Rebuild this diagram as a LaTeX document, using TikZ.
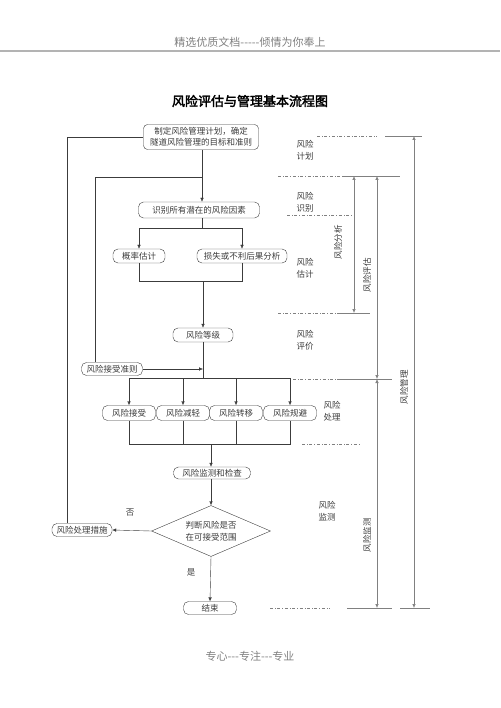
\documentclass[tikz,border=0pt]{standalone}
\usepackage{fontspec}
\usepackage{tikz}
\usepackage{xcolor}
\usetikzlibrary{positioning, arrows.meta, shapes.geometric}
\setmainfont[AutoFakeBold=2.5]{Noto Sans CJK SC}
\definecolor{rkgray}{RGB}{128, 128, 128}
\definecolor{rkline}{RGB}{60, 60, 60}
\tikzset{
    arr/.style={-{Latex[length=4pt, width=3.5pt]}},
    twoarr/.style={{Latex[length=4pt, width=3.5pt]}-{Latex[length=4pt, width=3.5pt]}},
    riskbox/.style={draw=rkline, thin, rounded corners=5pt, inner sep=1pt, minimum height=14pt, font=\fontsize{8.5}{11}\selectfont},
    riskdiamond/.style={draw=rkline, thin, diamond, aspect=2.33, inner sep=0pt, minimum width=119pt, minimum height=51pt, align=center, font=\fontsize{8.5}{12}\selectfont},
    sidelabel/.style={align=center, text=rkline, font=\fontsize{8.5}{12}\selectfont},
    sideturn/.style={sidelabel, rotate=90},
    sepline/.style={rkgray, thin, dash dot},
    scalebar/.style={rkgray, semithick},
    scaleline/.style={rkgray, semithick}
}

\begin{document}
\begin{tikzpicture}[x=1pt, y=-1pt, rkline, thin]
    \useasboundingbox (0,0) rectangle (500,708);

    % header and footer
    \node[text=rkgray, font=\fontsize{11}{13}\selectfont] (header) at (250,42) {精选优质文档-{}-{}-{}-{}-倾情为你奉上};
    \draw[rkgray!60, line width=1.6pt] (0,51) -- (500,51);
    \node[font=\fontsize{13}{15}\selectfont\bfseries, text=black] (title) at (250,101) {风险评估与管理基本流程图};
    \node[text=rkgray, font=\fontsize{11}{13}\selectfont] (footer) at (250,656) {专心-{}-{}-专注-{}-{}-专业};

    % flow nodes
    \node[riskbox, minimum width=115pt, minimum height=25pt, align=center, rounded corners=4pt] (plan) at (201,137)
        {制定风险管理计划，确定\\隧道风险管理的目标和准则};
    \node[riskbox, minimum width=121pt, minimum height=16pt] (ident) at (199,210) {识别所有潜在的风险因素};
    \node[riskbox, minimum width=52pt] (prob) at (139,256) {概率估计};
    \node[riskbox, minimum width=90pt] (loss) at (242,256) {损失或不利后果分析};
    \node[riskbox, minimum width=60pt] (level) at (203,335) {风险等级};
    \node[riskbox, minimum width=61pt, minimum height=13pt] (rule) at (112,369) {风险接受准则};
    \node[riskbox, minimum width=53pt, minimum height=15pt] (take) at (129,413) {风险接受};
    \node[riskbox, minimum width=53pt, minimum height=15pt] (ease) at (183,413) {风险减轻};
    \node[riskbox, minimum width=53pt, minimum height=15pt] (shift) at (236,413) {风险转移};
    \node[riskbox, minimum width=53pt, minimum height=15pt] (avoid) at (290,413) {风险规避};
    \node[riskbox, minimum width=77pt, minimum height=12pt] (watch) at (212,473) {风险监测和检查};
    \node[riskdiamond] (judge) at (211,531) {判断风险是否\\在可接受范围};
    \node[riskbox, minimum width=60pt, minimum height=13pt] (treat) at (82,530) {风险处理措施};
    \node[riskbox, minimum width=53pt, minimum height=13pt] (finish) at (210,608) {结束};

    \coordinate (back) at (202,177);
    \coordinate (split) at (202,228);
    \coordinate (merge) at (203,281);
    \coordinate (fan) at (203,378);
    \coordinate (join) at (211,444);

    % connectors
    \draw[arr] (plan.south -| back) -- (back |- ident.north);
    \draw (back |- ident.south) -- (split);
    \draw[arr] (split) -| (prob.north);
    \draw[arr] (split) -| (loss.north);
    \draw (prob.south) |- (merge);
    \draw (loss.south) |- (merge);
    \draw[arr] (merge) -- (level.north);
    \draw (level.south) -- (fan);
    \draw[arr] (rule.east) -- (rule.east -| fan);
    \draw[arr] (fan) -| (take.north);
    \draw[arr] (fan) -| (ease.north);
    \draw[arr] (fan) -| (shift.north);
    \draw[arr] (fan) -| (avoid.north);
    \draw (take.south) |- (join);
    \draw (ease.south) |- (join);
    \draw (shift.south) |- (join);
    \draw (avoid.south) |- (join);
    \draw[arr] (join) -- (join |- watch.north);
    \draw[arr] (watch.south -| judge) -- (judge.north);
    \draw[arr] (judge.west) -- (treat.east);
    \draw[arr] (judge.south) -- (finish.north);
    \draw ([xshift=14pt]rule.north west) |- (back);
    \draw ([xshift=15pt]treat.north west) |- (plan.west);
    \node[sidelabel] (no) at (130,513) {否};
    \node[sidelabel] (yes) at (191,572) {是};

    % stage separators
    \draw[sepline] (317,136) -- (377,136);
    \draw[sepline] (278,176) -- (342,176);
    \draw[sepline] (287,215) -- (352,215);
    \draw[sepline] (278,313) -- (340,313);
    \draw[sepline] (293,379) -- (340,379);
    \draw[sepline] (302,444) -- (360,444);
    \draw[sepline] (270,608) -- (330,608);

    % scale bars
    \draw[scalebar] (385,136) -- (422,136);
    \draw[scalebar] (342,176) -- (400,176);
    \draw[scalebar] (340,313) -- (370,313);
    \draw[scalebar] (340,379) -- (392,379);
    \draw[scalebar] (347,608) -- (392,608);
    \draw[scalebar] (400,608) -- (430,608);
    \draw[scaleline, twoarr] (414,136) -- (414,608);
    \draw[scaleline, twoarr] (377,176) -- (377,379);
    \draw[scaleline, twoarr] (377,379) -- (377,608);
    \draw[scaleline, twoarr] (354,176) -- (354,313);

    % stage labels
    \node[sidelabel] (s-plan) at (305,150) {风险\\计划};
    \node[sidelabel] (s-ident) at (305,202) {风险\\识别};
    \node[sidelabel] (s-est) at (305,268) {风险\\估计};
    \node[sidelabel] (s-eval) at (305,340) {风险\\评价};
    \node[sidelabel] (s-treat) at (332,411) {风险\\处理};
    \node[sidelabel] (s-watch) at (327,511) {风险\\监测};
    \node[sideturn] (t-anal) at (338,242) {风险分析};
    \node[sideturn] (t-assess) at (367,275) {风险评估};
    \node[sideturn] (t-manage) at (404,387) {风险管理};
    \node[sideturn] (t-watch) at (367,535) {风险监测};
\end{tikzpicture}
\end{document}
